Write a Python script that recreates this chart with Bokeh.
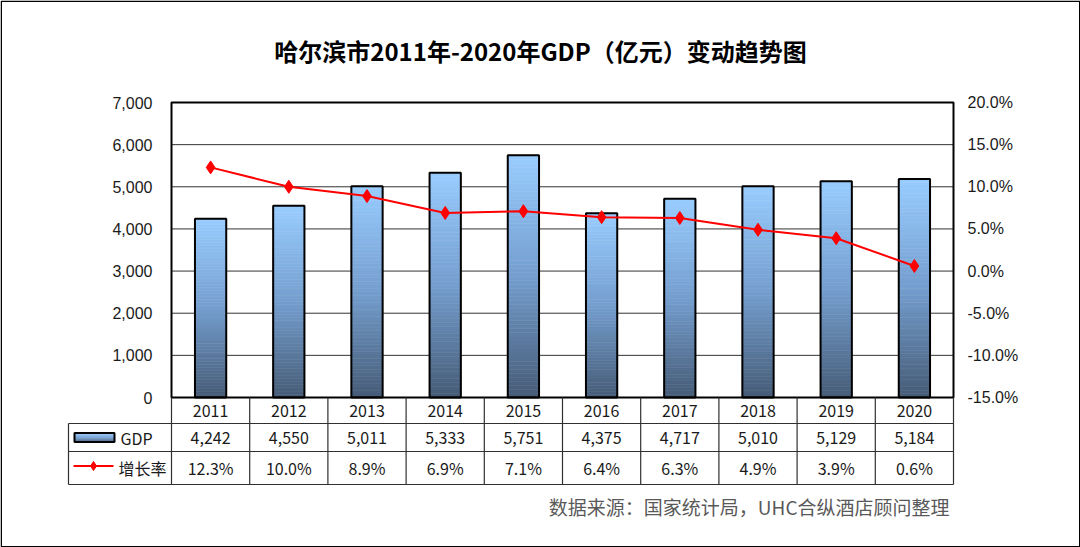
from bokeh.plotting import figure
from bokeh.models import Range1d
from bokeh.core.properties import value
from bokeh.embed import file_html
from bokeh.resources import INLINE

# ---------------- data ----------------
years = ["2011", "2012", "2013", "2014", "2015", "2016", "2017", "2018", "2019", "2020"]
gdp = [4242, 4550, 5011, 5333, 5751, 4375, 4717, 5010, 5129, 5184]
rate = [12.3, 10.0, 8.9, 6.9, 7.1, 6.4, 6.3, 4.9, 3.9, 0.6]
gdp_ticks = [0, 1000, 2000, 3000, 4000, 5000, 6000, 7000]
gdp_tick_labels = ["0", "1,000", "2,000", "3,000", "4,000", "5,000", "6,000", "7,000"]
rate_ticks = [-15, -10, -5, 0, 5, 10, 15, 20]
rate_tick_labels = ["-15.0%", "-10.0%", "-5.0%", "0.0%", "5.0%", "10.0%", "15.0%", "20.0%"]
series_names = ["GDP", "增长率"]
title_text = "哈尔滨市2011年-2020年GDP（亿元）变动趋势图"
source_text = "数据来源：国家统计局，UHC合纵酒店顾问整理"

# ---------------- layout ----------------
W, H = 1080, 547
PL, PR, PT, PB = 171, 953, 102, 397          # chart box in pixels
TL = 68                                      # table left edge
ROW_Y = [397, 423, 451, 484]                 # table row boundaries
n = len(years)
idx = list(range(n))
ux = (PR - PL) / n
gy0, gy1 = gdp_ticks[0], gdp_ticks[-1]
uy = (PB - PT) / (gy1 - gy0)
r0, r1 = rate_ticks[0], rate_ticks[-1]
ur = (PB - PT) / (r1 - r0)

p = figure(width=W, height=H, title=None, toolbar_location=None, output_backend="svg",
           x_range=Range1d(-0.5 - PL / ux, n - 0.5 + (W - PR) / ux),
           y_range=Range1d(gy0 - (H - PB) / uy, gy1 + PT / uy),
           min_border=0)
p.extra_y_ranges = {"rate": Range1d(r0 - (H - PB) / ur, r1 + PT / ur),
                    "py": Range1d(H, 0)}
p.extra_x_ranges = {"px": Range1d(0, W)}
p.axis.visible = False
p.grid.visible = False
p.outline_line_color = None
p.background_fill_color = "white"
p.border_fill_color = "white"

NUM_FONT = value("Liberation Sans")
CJK_FONT = value("Noto Sans CJK SC")

# gridlines
p.segment(x0=[-0.5] * len(gdp_ticks), x1=[n - 0.5] * len(gdp_ticks), y0=gdp_ticks, y1=gdp_ticks,
          line_color="#333333", line_width=1)


def grad(t):
    stops = [(0.0, (70, 91, 118)), (0.5, (116, 158, 206)), (1.0, (153, 204, 255))]
    for (a, ca), (b, cb) in zip(stops[:-1], stops[1:]):
        if a <= t <= b:
            f = (t - a) / (b - a)
            c = [round(ca[j] + (cb[j] - ca[j]) * f) for j in range(3)]
            return "#%02x%02x%02x" % tuple(c)
    return "#99ccff"


# gradient bars
BW = 0.4
NS = 60
L, R, T, B, C = [], [], [], [], []
for i, v in enumerate(gdp):
    for k in range(NS):
        L.append(i - BW / 2)
        R.append(i + BW / 2)
        B.append(v * k / NS)
        T.append(v * (k + 1) / NS)
        C.append(grad((k + 0.5) / NS))
p.quad(left=L, right=R, top=T, bottom=B, fill_color=C, line_color=C, line_width=0.6)
p.quad(left=[i - BW / 2 for i in idx], right=[i + BW / 2 for i in idx], top=gdp,
       bottom=[0] * n, fill_color=None, line_color="black", line_width=2)

# growth line
p.line(idx, rate, y_range_name="rate", line_color="#FF0000", line_width=2)
p.scatter(idx, rate, y_range_name="rate", marker="diamond", size=13,
          fill_color="#FF0000", line_color="#FF0000")

# chart box
p.quad(left=[-0.5], right=[n - 0.5], top=[gy1], bottom=[gy0], fill_color=None,
       line_color="black", line_width=2)

# axis tick labels
p.text(x=[PL - 19] * len(gdp_ticks), y=gdp_ticks, text=gdp_tick_labels, x_range_name="px",
       text_font=NUM_FONT, text_font_size="16px", text_align="right",
       text_baseline="middle", text_color="#1a1a1a")
p.text(x=[PR + 14] * len(rate_ticks), y=rate_ticks, text=rate_tick_labels, x_range_name="px",
       y_range_name="rate", text_font=NUM_FONT, text_font_size="16px", text_align="left",
       text_baseline="middle", text_color="#1a1a1a")

# table lines
bounds = [i - 0.5 for i in range(n + 1)]
p.segment(x0=bounds, x1=bounds, y0=[ROW_Y[0]] * len(bounds), y1=[ROW_Y[-1]] * len(bounds),
          y_range_name="py", line_color="#303030", line_width=1.2)
p.segment(x0=[TL] * 3, x1=[PR] * 3, y0=ROW_Y[1:], y1=ROW_Y[1:], x_range_name="px",
          y_range_name="py", line_color="#303030", line_width=1.2)
p.segment(x0=[TL], x1=[TL], y0=[ROW_Y[1]], y1=[ROW_Y[-1]], x_range_name="px",
          y_range_name="py", line_color="#303030", line_width=1.2)

row_c = [(ROW_Y[k] + ROW_Y[k + 1]) / 2 for k in range(3)]
TABLE_FONT = CJK_FONT
p.text(x=idx, y=[row_c[0]] * n, text=years, y_range_name="py", text_font=TABLE_FONT,
       text_font_size="16px", text_align="center", text_baseline="middle", text_color="#1a1a1a")
p.text(x=idx, y=[row_c[1]] * n, text=[f"{v:,}" for v in gdp], y_range_name="py",
       text_font=TABLE_FONT, text_font_size="16px", text_align="center",
       text_baseline="middle", text_color="#1a1a1a")
p.text(x=idx, y=[row_c[2]] * n, text=[f"{r:.1f}%" for r in rate], y_range_name="py",
       text_font=TABLE_FONT, text_font_size="16px", text_align="center",
       text_baseline="middle", text_color="#1a1a1a")

# legend keys inside table
SW_L, SW_R, SW_T, SW_B = 74, 114, row_c[1] - 4.5, row_c[1] + 4.5
ns2 = 10
p.quad(left=[SW_L] * ns2, right=[SW_R] * ns2,
       top=[SW_B - (SW_B - SW_T) * (k + 1) / ns2 for k in range(ns2)],
       bottom=[SW_B - (SW_B - SW_T) * k / ns2 for k in range(ns2)],
       fill_color=[grad((k + 0.5) / ns2) for k in range(ns2)],
       line_color=[grad((k + 0.5) / ns2) for k in range(ns2)], line_width=0.5,
       x_range_name="px", y_range_name="py")
p.quad(left=[SW_L], right=[SW_R], top=[SW_T], bottom=[SW_B], fill_color=None,
       line_color="black", line_width=2, x_range_name="px", y_range_name="py")
p.text(x=[120], y=[row_c[1]], text=[series_names[0]], x_range_name="px", y_range_name="py",
       text_font=TABLE_FONT, text_font_size="16px", text_baseline="middle", text_color="#1a1a1a")
p.segment(x0=[73], x1=[113], y0=[row_c[2] - 2], y1=[row_c[2] - 2], x_range_name="px",
          y_range_name="py", line_color="#FF0000", line_width=2)
p.scatter(x=[93], y=[row_c[2] - 2], marker="diamond", size=9, fill_color="#FF0000",
          line_color="#FF0000", x_range_name="px", y_range_name="py")
p.text(x=[118], y=[row_c[2]], text=[series_names[1]], x_range_name="px", y_range_name="py",
       text_font=TABLE_FONT, text_font_size="16px", text_baseline="middle", text_color="#1a1a1a")

# title and source
p.text(x=[W / 2], y=[50], text=[title_text], x_range_name="px", y_range_name="py",
       text_font=CJK_FONT, text_font_size="24px", text_font_style="bold", text_align="center",
       text_baseline="middle", text_color="#000000")
p.text(x=[949], y=[506], text=[source_text], x_range_name="px", y_range_name="py",
       text_font=CJK_FONT, text_font_size="19px", text_align="right",
       text_baseline="middle", text_color="#595959")

# outer border
p.quad(left=[0.75], right=[W - 0.75], top=[0.75], bottom=[H - 0.75], fill_color=None,
       line_color="black", line_width=1.5, x_range_name="px", y_range_name="py")

open("out.html", "w").write(file_html(p, INLINE))
